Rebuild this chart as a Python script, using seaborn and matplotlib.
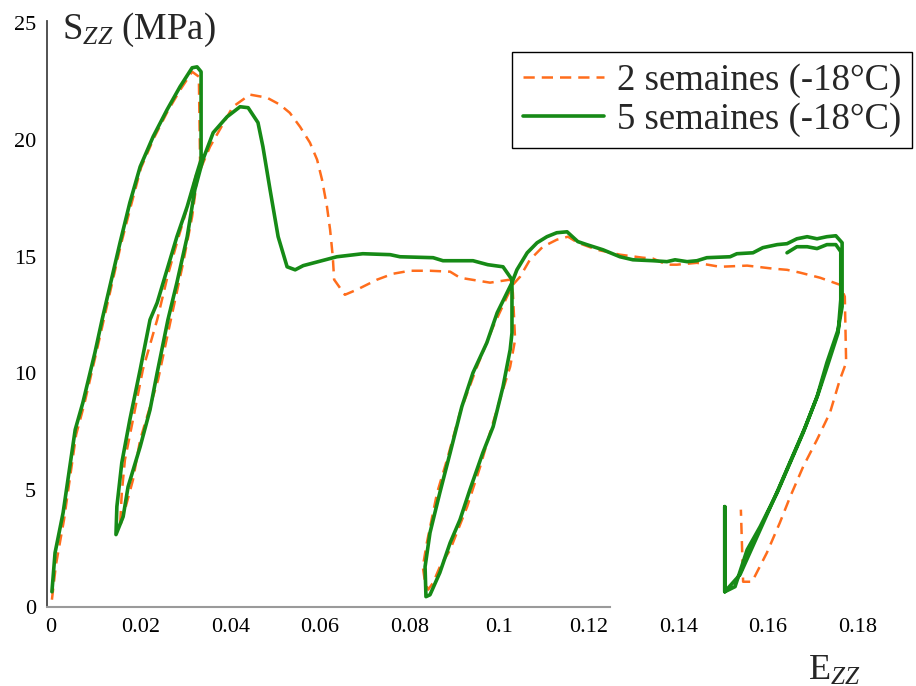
import matplotlib
matplotlib.use("Agg")
import matplotlib.pyplot as plt
import pandas as pd
import seaborn as sns

# strain / stress, in drawing order
ezz_5sem = [0.0002, 0.0009, 0.0027, 0.0054, 0.0071, 0.0098, 0.0114, 0.0154, 0.0176, 0.0199,
            0.0228, 0.0259, 0.0288, 0.0315, 0.0326, 0.0335, 0.0335, 0.0326, 0.0304, 0.0281,
            0.0259, 0.0237, 0.0221, 0.0199, 0.0176, 0.0158, 0.0147, 0.0145, 0.0161, 0.0172,
            0.0199, 0.0221, 0.0237, 0.0261, 0.0281, 0.0304, 0.0321, 0.0339, 0.0362, 0.0393,
            0.0422, 0.0440, 0.0462, 0.0473, 0.0489, 0.0507, 0.0527, 0.0545, 0.0563, 0.0638,
            0.0696, 0.0757, 0.0779, 0.0853, 0.0875, 0.0942, 0.0975, 0.1009, 0.1029, 0.1029,
            0.1029, 0.1025, 0.1009, 0.0987, 0.0964, 0.0935, 0.0913, 0.0891, 0.0868, 0.0846,
            0.0837, 0.0835, 0.0846, 0.0868, 0.0891, 0.0917, 0.0942, 0.0973, 0.0996, 0.1029,
            0.1040, 0.1063, 0.1085, 0.1107, 0.1129, 0.1152, 0.1176, 0.1196, 0.1232, 0.1270,
            0.1299, 0.1344, 0.1375, 0.1393, 0.1420, 0.1442, 0.1464, 0.1516, 0.1531, 0.1567,
            0.1589, 0.1621, 0.1643, 0.1665, 0.1688, 0.1710, 0.1732, 0.1752, 0.1766, 0.1766,
            0.1766, 0.1757, 0.1732, 0.1710, 0.1679, 0.1650, 0.1621, 0.1583, 0.1554, 0.1527,
            0.1504, 0.1504, 0.1504, 0.1538, 0.1583, 0.1623, 0.1654, 0.1683, 0.1712, 0.1734,
            0.1757, 0.1763, 0.1763, 0.1752, 0.1732, 0.1710, 0.1688, 0.1665, 0.1643]
szz_5sem = [0.64, 2.31, 4.03, 7.59, 8.74, 10.89, 12.30, 15.60, 17.32, 18.86,
            20.15, 21.30, 22.29, 23.10, 23.14, 22.93, 19.16, 18.60, 17.15, 15.86,
            14.44, 13.03, 12.30, 10.16, 8.02, 6.17, 4.29, 3.09, 3.86, 5.14,
            6.86, 8.44, 10.03, 12.30, 13.89, 15.86, 17.87, 19.16, 20.32, 21.00,
            21.43, 21.39, 20.75, 19.72, 17.87, 15.86, 14.57, 14.44, 14.62, 15.00,
            15.13, 15.09, 15.00, 14.96, 14.83, 14.83, 14.66, 14.57, 14.02, 13.59,
            11.74, 11.02, 9.43, 7.72, 6.60, 5.01, 3.73, 2.74, 1.46, 0.51,
            0.43, 1.71, 3.17, 4.89, 6.60, 8.57, 10.03, 11.32, 12.60, 13.89,
            14.44, 15.17, 15.60, 15.86, 16.03, 16.07, 15.65, 15.52, 15.30, 15.00,
            14.87, 14.83, 14.79, 14.87, 14.79, 14.83, 14.96, 15.00, 15.13, 15.17,
            15.39, 15.52, 15.56, 15.77, 15.86, 15.77, 15.86, 15.90, 15.60, 14.02,
            12.86, 11.87, 10.46, 9.00, 7.46, 6.17, 4.89, 3.43, 2.44, 0.86,
            0.64, 4.29, 0.64, 1.37, 3.30, 5.01, 6.39, 7.67, 9.09, 10.37,
            11.74, 13.16, 15.22, 15.52, 15.52, 15.35, 15.43, 15.43, 15.17]

ezz_2sem = [0.0002, 0.0011, 0.0029, 0.0056, 0.0074, 0.0100, 0.0156, 0.0179, 0.0201, 0.0230,
            0.0261, 0.0290, 0.0315, 0.0330, 0.0333, 0.0324, 0.0306, 0.0283, 0.0261, 0.0237,
            0.0205, 0.0183, 0.0165, 0.0158, 0.0154, 0.0165, 0.0183, 0.0199, 0.0221, 0.0239,
            0.0266, 0.0295, 0.0315, 0.0326, 0.0333, 0.0355, 0.0406, 0.0444, 0.0482, 0.0511,
            0.0533, 0.0556, 0.0578, 0.0594, 0.0605, 0.0616, 0.0623, 0.0629, 0.0632, 0.0656,
            0.0683, 0.0728, 0.0763, 0.0801, 0.0846, 0.0891, 0.0913, 0.0980, 0.1025, 0.1031,
            0.1036, 0.1025, 0.1002, 0.0980, 0.0958, 0.0929, 0.0891, 0.0868, 0.0853, 0.0842,
            0.0835, 0.0830, 0.0839, 0.0862, 0.0884, 0.0913, 0.0951, 0.0987, 0.1018, 0.1031,
            0.1047, 0.1069, 0.1098, 0.1129, 0.1154, 0.1176, 0.1219, 0.1270, 0.1321, 0.1344,
            0.1375, 0.1397, 0.1442, 0.1493, 0.1554, 0.1612, 0.1643, 0.1672, 0.1717, 0.1761,
            0.1772, 0.1775, 0.1761, 0.1739, 0.1710, 0.1679, 0.1650, 0.1627, 0.1598, 0.1565,
            0.1545, 0.1540]
szz_2sem = [0.30, 1.80, 3.73, 7.37, 8.66, 10.80, 15.52, 17.23, 18.82, 20.10,
            21.26, 22.20, 22.93, 22.72, 18.73, 18.52, 17.23, 15.73, 14.23, 12.30,
            10.16, 8.02, 6.30, 4.89, 3.43, 4.16, 5.44, 7.16, 8.57, 9.73,
            12.17, 14.74, 16.72, 18.30, 18.73, 19.72, 21.43, 21.95, 21.82, 21.52,
            21.17, 20.57, 19.89, 19.16, 18.30, 17.15, 16.16, 15.00, 14.02, 13.37,
            13.59, 14.02, 14.27, 14.40, 14.40, 14.36, 14.10, 13.89, 14.02, 13.46,
            11.44, 10.29, 8.87, 7.46, 6.00, 4.29, 2.44, 1.71, 1.03, 0.73,
            1.03, 1.71, 2.74, 4.89, 6.30, 8.32, 10.29, 12.00, 13.29, 13.80,
            14.14, 14.87, 15.43, 15.73, 15.86, 15.60, 15.30, 15.09, 14.96, 14.92,
            14.66, 14.66, 14.74, 14.57, 14.62, 14.49, 14.44, 14.32, 14.10, 13.80,
            13.29, 10.46, 9.73, 8.32, 7.16, 6.00, 4.71, 3.60, 2.31, 1.07,
            1.07, 4.16]

series_labels = ["2 semaines (-18°C)", "5 semaines (-18°C)"]
x_ticks = [0, 0.02, 0.04, 0.06, 0.08, 0.1, 0.12, 0.14, 0.16, 0.18]
x_tick_labels = ["0", "0.02", "0.04", "0.06", "0.08", "0.1", "0.12", "0.14", "0.16", "0.18"]
y_ticks = [0, 5, 10, 15, 20, 25]

sns.set_style("white")
plt.rcParams["font.family"] = ["Liberation Serif", "DejaVu Serif"]
plt.rcParams["mathtext.fontset"] = "custom"
plt.rcParams["mathtext.rm"] = "Liberation Serif"
plt.rcParams["mathtext.it"] = "Liberation Serif:italic"

fig = plt.figure(figsize=(9.16, 6.86), dpi=100)
ax = fig.add_axes([0.0513, 0.1156, 0.892, 0.8536])

orange = "#ff6d1c"
green = "#168a16"

df2 = pd.DataFrame({"ezz": ezz_2sem, "szz": szz_2sem})
df5 = pd.DataFrame({"ezz": ezz_5sem, "szz": szz_5sem})

sns.lineplot(data=df2, x="ezz", y="szz", sort=False, estimator=None, ax=ax,
             color=orange, linewidth=1.8, label=series_labels[0])
ax.lines[-1].set_dashes([4.5, 2.8])
sns.lineplot(data=df5, x="ezz", y="szz", sort=False, estimator=None, ax=ax,
             color=green, linewidth=2.6, label=series_labels[1])

ax.set_xlim(-0.0009, 0.1815)
ax.set_ylim(0, 25.1)
ax.set_xticks(x_ticks)
ax.set_xticklabels(x_tick_labels)
ax.set_yticks(y_ticks)
ax.tick_params(axis="both", direction="in", length=7.5, width=1, colors="black",
               labelsize=16, pad=8)
ax.set_xlabel("")
ax.set_ylabel("")

for side in ["top", "right"]:
    ax.spines[side].set_visible(False)
ax.spines["left"].set_color("#444444")
ax.spines["left"].set_linewidth(1.3)
ax.spines["bottom"].set_color("#9a9a9a")
ax.spines["bottom"].set_linewidth(1.5)
ax.spines["bottom"].set_bounds(-0.0009, 0.1248)

fig.text(0.068, 0.957, r"S$_{ZZ}$ (MPa)", fontsize=26.5, va="center", ha="left")
fig.text(0.882, 0.022, r"E$_{ZZ}$", fontsize=26, va="center", ha="left")

leg = ax.legend(loc="upper right", bbox_to_anchor=(0.9956, 0.9242),
                bbox_transform=fig.transFigure, fontsize=26.5, frameon=True,
                fancybox=False, framealpha=1, edgecolor="black", borderaxespad=0,
                handlelength=2.2, handletextpad=0.33, labelspacing=0.12,
                borderpad=0.3)
leg.get_frame().set_linewidth(1.0)

plt.savefig("out.png", dpi=100)
